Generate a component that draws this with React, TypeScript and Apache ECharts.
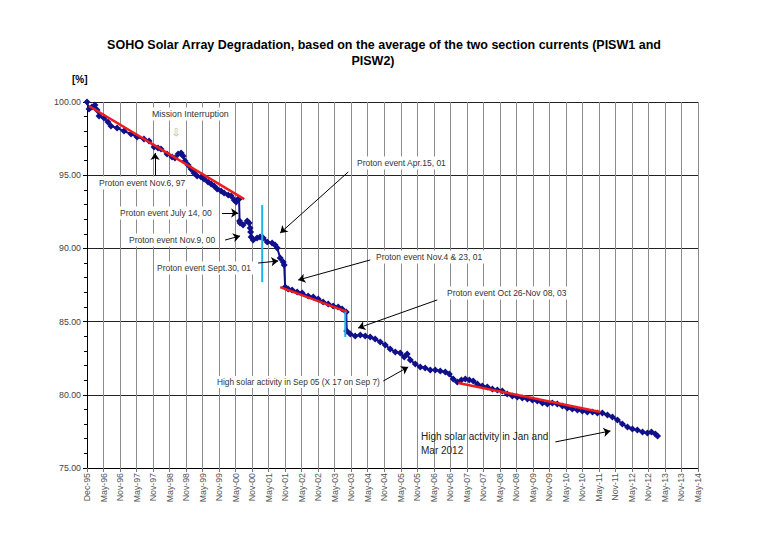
import React, { useEffect, useRef } from "react";
import * as echarts from "echarts";

// Half-year slots on the x axis (slot 0 = Dec-95, then May / Nov of each year)
const xLabels = [
  "Dec-95", "May-96", "Nov-96", "May-97", "Nov-97", "May-98", "Nov-98", "May-99",
  "Nov-99", "May-00", "Nov-00", "May-01", "Nov-01", "May-02", "Nov-02", "May-03",
  "Nov-03", "May-04", "Nov-04", "May-05", "Nov-05", "May-06", "Nov-06", "May-07",
  "Nov-07", "May-08", "Nov-08", "May-09", "Nov-09", "May-10", "Nov-10", "May-11",
  "Nov-11", "May-12", "Nov-12", "May-13", "Nov-13", "May-14",
];

const yTicks = [75, 80, 85, 90, 95, 100];

// Measurement time, in half-year slots
const slots = [
  0.0, 0.12, 0.3, 0.48, 0.61, 0.73, 1.03, 1.27, 1.45, 1.82, 2.24, 2.67, 3.03, 3.45, 3.76,
  4.06, 4.3, 4.48, 4.85, 5.15, 5.33, 5.52, 5.7, 5.82, 5.94, 6.12, 6.3, 6.48, 6.67, 6.91,
  7.09, 7.33, 7.52, 7.7, 7.88, 8.12, 8.3, 8.55, 8.73, 8.91, 9.03, 9.15, 9.21, 9.24, 9.27,
  9.45, 9.7, 9.82, 9.88, 9.91, 9.94, 10.06, 10.3, 10.48, 10.67, 10.91, 11.21, 11.39, 11.52,
  11.7, 11.88, 11.94, 12.0, 12.18, 12.42, 12.73, 13.03, 13.39, 13.7, 14.0, 14.3, 14.61,
  14.91, 15.21, 15.45, 15.7, 15.73, 15.94, 16.24, 16.55, 16.85, 17.15, 17.45, 17.76, 18.06,
  18.36, 18.67, 18.97, 19.21, 19.39, 19.58, 19.88, 20.18, 20.48, 20.79, 21.09, 21.39, 21.7,
  21.94, 22.18, 22.42, 22.67, 22.91, 23.15, 23.39, 23.64, 23.94, 24.24, 24.55, 24.85, 25.15,
  25.45, 25.76, 26.06, 26.36, 26.67, 26.97, 27.27, 27.58, 27.88, 28.18, 28.48, 28.79, 29.09,
  29.39, 29.7, 30.0, 30.3, 30.61, 30.91, 31.21, 31.52, 31.82, 32.12, 32.42, 32.73, 33.03,
  33.33, 33.64, 33.94, 34.18, 34.42, 34.55,
];

// Solar array output, % of initial
const pct = [
  100.0, 99.52, 99.66, 99.8, 99.45, 99.04, 98.91, 98.63, 98.36, 98.22, 98.02, 97.81, 97.61,
  97.47, 97.34, 96.93, 96.86, 96.79, 96.45, 96.24, 96.17, 96.45, 96.52, 96.31, 95.97, 95.7,
  95.42, 95.15, 94.95, 94.88, 94.74, 94.54, 94.4, 94.26, 94.06, 93.92, 93.78, 93.65, 93.58,
  93.31, 93.17, 93.37, 93.37, 91.87, 91.73, 91.6, 91.87, 91.73, 91.39, 91.12, 90.78, 90.57,
  90.71, 90.78, 90.71, 90.44, 90.37, 90.23, 90.03, 89.34, 89.07, 88.87, 87.36, 87.23, 87.16,
  87.02, 86.95, 86.75, 86.68, 86.54, 86.34, 86.2, 86.07, 86.0, 85.86, 85.66, 84.36, 84.15,
  84.02, 84.08, 84.02, 83.95, 83.81, 83.61, 83.4, 83.13, 82.92, 82.86, 82.58, 82.79, 82.38,
  82.1, 81.9, 81.83, 81.69, 81.69, 81.63, 81.56, 81.42, 81.08, 80.87, 81.01, 81.08, 81.01,
  80.94, 80.74, 80.6, 80.53, 80.4, 80.33, 80.26, 80.05, 79.92, 79.85, 79.78, 79.71, 79.64,
  79.58, 79.44, 79.37, 79.44, 79.37, 79.23, 79.1, 79.03, 78.96, 78.89, 78.83, 78.83, 78.76,
  78.76, 78.62, 78.48, 78.28, 78.01, 77.8, 77.66, 77.6, 77.46, 77.39, 77.46, 77.32, 77.19,
];

// Red trend segments: [slotStart, pctStart, slotEnd, pctEnd]
const trend1 = [0.12, 99.73, 9.52, 93.37];
const trend2 = [11.7, 87.36, 15.76, 85.66];
const trend3 = [22.48, 80.81, 31.09, 78.83];

// Cyan event markers: [slot, pctTop, pctBottom]
const cyan1 = [10.61, 92.96, 87.7];
const cyan2 = [15.64, 85.66, 83.95];

// Annotation arrows: [slotTail, pctTail, slotTip, pctTip]
const arrows = [
  [4.12, 94.95, 4.12, 96.52],
  [8.18, 92.42, 9.15, 92.42],
  [8.36, 90.57, 9.27, 90.85],
  [10.36, 89.0, 11.58, 89.14],
  [15.82, 95.22, 11.7, 91.05],
  [17.15, 89.21, 12.79, 87.84],
  [21.21, 86.48, 16.42, 84.56],
  [17.94, 80.94, 19.45, 81.9],
  [28.36, 76.78, 31.7, 77.53],
];

const FONT = "'Liberation Sans', Arial, sans-serif";

function boxText(text: string, x: number, y: number, size = 8.5) {
  return {
    type: "text",
    z: 1,
    style: {
      text,
      x,
      y,
      fill: "#333",
      fontSize: size,
      fontFamily: FONT,
      verticalAlign: "middle",
      align: "left",
      backgroundColor: "#fff",
      padding: [2, 2],
    },
  };
}

export default function App() {
  const ref = useRef<HTMLDivElement>(null);
  useEffect(() => {
    if (!ref.current) return;
    const chart = echarts.init(ref.current, undefined, { renderer: "svg" });
    const seg = (a: number[]) => [
      [a[0], a[1]],
      [a[2], a[3]],
    ];
    const vseg = (a: number[]) => [
      [a[0], a[1]],
      [a[0], a[2]],
    ];
    chart.setOption({
      animation: false,
      backgroundColor: "#fff",
      grid: { left: 87, right: 65, top: 102, bottom: 71, containLabel: false },
      xAxis: {
        type: "value",
        min: 0,
        max: xLabels.length - 1,
        interval: 1,
        axisLine: { show: true, onZero: false, lineStyle: { color: "#000", width: 1 } },
        axisTick: { show: true, length: 4, lineStyle: { color: "#777" } },
        axisLabel: {
          rotate: 90,
          fontSize: 8.8,
          fontFamily: FONT,
          color: "#555",
          margin: 5,
          formatter: (v: number) => xLabels[Math.round(v)] ?? "",
        },
        splitLine: { show: true, lineStyle: { color: "#8c8c8c", width: 1 } },
      },
      yAxis: {
        type: "value",
        min: yTicks[0],
        max: yTicks[yTicks.length - 1],
        interval: 5,
        axisLine: { show: true, lineStyle: { color: "#000", width: 1 } },
        axisTick: { show: true, length: 4, lineStyle: { color: "#000" } },
        minorTick: { show: true, splitNumber: 5, length: 3, lineStyle: { color: "#000" } },
        axisLabel: {
          fontSize: 8.8,
          fontFamily: FONT,
          color: "#444",
          margin: 6,
          formatter: (v: number) => v.toFixed(2),
        },
        splitLine: { show: true, lineStyle: { color: "#222", width: 1 } },
      },
      series: [
        {
          type: "line",
          data: slots.map((s, i) => [s, pct[i]]),
          symbol: "diamond",
          symbolSize: 7,
          showSymbol: true,
          itemStyle: { color: "#10108a" },
          lineStyle: { color: "#10108a", width: 2 },
          z: 2,
          markLine: {
            silent: true,
            symbol: ["none", "arrow"],
            symbolSize: 7,
            label: { show: false },
            lineStyle: { color: "#000", width: 1, type: "solid" },
            data: arrows.map((a) => [{ coord: [a[0], a[1]] }, { coord: [a[2], a[3]] }]),
          },
        },
        ...[trend1, trend2, trend3].map((tr) => ({
          type: "line",
          data: seg(tr),
          symbol: "none",
          lineStyle: { color: "#ee1c1c", width: 2.5 },
          z: 3,
        })),
        ...[cyan1, cyan2].map((c) => ({
          type: "line",
          data: vseg(c),
          symbol: "none",
          lineStyle: { color: "#1fb2e8", width: 2 },
          z: 3,
        })),
      ],
      graphic: [
        {
          type: "text",
          z: 5,
          style: {
            text: "SOHO Solar Array Degradation, based on the average of the two section currents (PISW1 and",
            x: 384,
            y: 45,
            align: "center",
            verticalAlign: "middle",
            fill: "#000",
            fontSize: 12.5,
            fontWeight: "bold",
            fontFamily: FONT,
          },
        },
        {
          type: "text",
          z: 5,
          style: {
            text: "PISW2)",
            x: 373,
            y: 61,
            align: "center",
            verticalAlign: "middle",
            fill: "#000",
            fontSize: 12.5,
            fontWeight: "bold",
            fontFamily: FONT,
          },
        },
        {
          type: "text",
          z: 5,
          style: {
            text: "[%]",
            x: 72,
            y: 79,
            verticalAlign: "middle",
            fill: "#000",
            fontSize: 10,
            fontWeight: "bold",
            fontFamily: FONT,
          },
        },
        boxText("Mission Interruption", 150, 114, 8.8),
        {
          type: "text",
          z: 1,
          style: {
            text: "⇩",
            x: 176,
            y: 132,
            align: "center",
            verticalAlign: "middle",
            fill: "#aaa",
            fontSize: 10,
            fontFamily: "'DejaVu Sans', sans-serif",
          },
        },
        boxText("Proton event Nov.6, 97", 97, 183),
        boxText("Proton event July 14, 00", 118, 213),
        boxText("Proton event Nov.9, 00", 127, 240),
        boxText("Proton event Sept.30, 01", 155, 268),
        boxText("Proton event Apr.15, 01", 355, 163),
        boxText("Proton event Nov.4 & 23, 01", 374, 257),
        boxText("Proton event Oct 26-Nov 08, 03", 445, 293),
        boxText("High solar activity in Sep 05 (X 17 on Sep 7)", 215, 382, 8.3),
        {
          type: "text",
          z: 1,
          style: {
            text: "High solar activity in Jan and\nMar 2012",
            x: 421,
            y: 443,
            verticalAlign: "middle",
            fill: "#222",
            fontSize: 10,
            lineHeight: 14,
            fontFamily: FONT,
          },
        },
      ],
    });
    return () => chart.dispose();
  }, []);
  return (
    <div
      ref={ref}
      style={{ position: "absolute", left: 0, top: 0, width: 763, height: 539, background: "#fff" }}
    />
  );
}
